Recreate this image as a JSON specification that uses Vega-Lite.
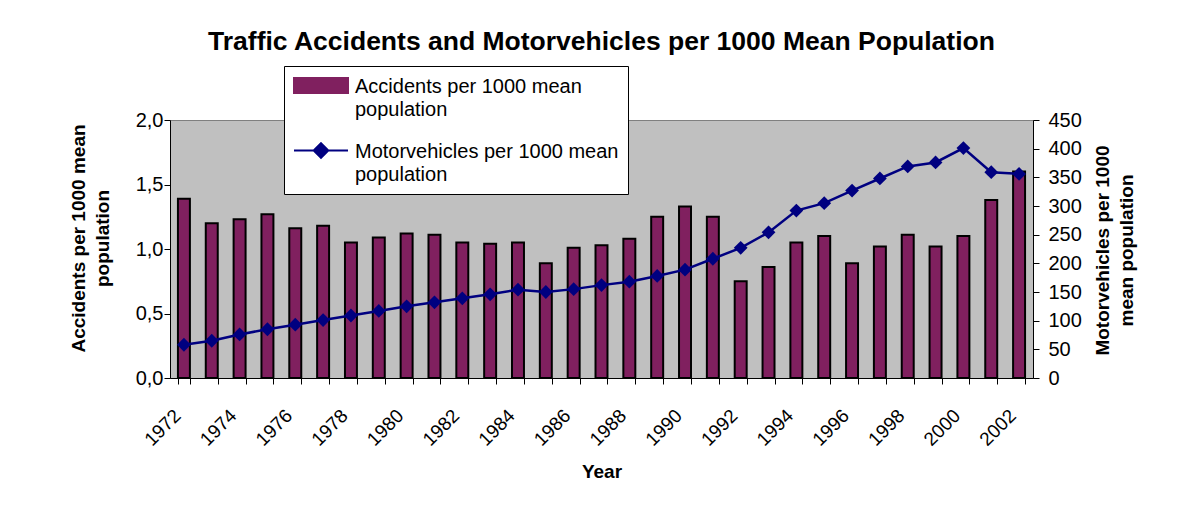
{
  "$schema": "https://vega.github.io/schema/vega-lite/v6.json",
  "width": 863,
  "height": 258,
  "autosize": {"type": "none"},
  "padding": {"left": 170, "top": 120, "right": 162, "bottom": 142},
  "background": "white",
  "config": {
    "font": "Liberation Sans",
    "view": {"fill": "#C0C0C0", "stroke": "#808080", "strokeWidth": 1},
    "axis": {
      "grid": false,
      "domainColor": "black",
      "tickColor": "black",
      "labelColor": "black",
      "titleColor": "black",
      "labelFont": "Liberation Sans",
      "titleFont": "Liberation Sans",
      "labelFontSize": 20,
      "titleFontSize": 19,
      "titleFontWeight": "bold",
      "tickSize": 6,
      "domainWidth": 1,
      "tickWidth": 1,
      "titleLineHeight": 24
    },
    "legend": {
      "title": null,
      "orient": "none",
      "legendX": 114,
      "legendY": -54,
      "fillColor": "white",
      "strokeColor": "black",
      "padding": 9,
      "labelFont": "Liberation Sans",
      "labelFontSize": 20,
      "labelColor": "black",
      "labelLimit": 500,
      "labelOffset": 6,
      "labelBaseline": "alphabetic",
      "symbolSize": 2916,
      "symbolStrokeWidth": 2,
      "symbolStrokeColor": "black",
      "rowPadding": 19
    }
  },
  "title": {
    "text": "Traffic Accidents and Motorvehicles per 1000 Mean Population",
    "font": "Liberation Sans",
    "fontSize": 26.5,
    "fontWeight": "bold",
    "color": "black",
    "anchor": "middle",
    "frame": "group",
    "offset": 10
  },
  "data": {
    "values": [
      {"Year": 1972, "Accidents": 1.39, "Motorvehicles": 58},
      {"Year": 1973, "Accidents": 1.20, "Motorvehicles": 65},
      {"Year": 1974, "Accidents": 1.23, "Motorvehicles": 76},
      {"Year": 1975, "Accidents": 1.27, "Motorvehicles": 85},
      {"Year": 1976, "Accidents": 1.16, "Motorvehicles": 93},
      {"Year": 1977, "Accidents": 1.18, "Motorvehicles": 101},
      {"Year": 1978, "Accidents": 1.05, "Motorvehicles": 109},
      {"Year": 1979, "Accidents": 1.09, "Motorvehicles": 117},
      {"Year": 1980, "Accidents": 1.12, "Motorvehicles": 125},
      {"Year": 1981, "Accidents": 1.11, "Motorvehicles": 132},
      {"Year": 1982, "Accidents": 1.05, "Motorvehicles": 139},
      {"Year": 1983, "Accidents": 1.04, "Motorvehicles": 146},
      {"Year": 1984, "Accidents": 1.05, "Motorvehicles": 154},
      {"Year": 1985, "Accidents": 0.89, "Motorvehicles": 150},
      {"Year": 1986, "Accidents": 1.01, "Motorvehicles": 155},
      {"Year": 1987, "Accidents": 1.03, "Motorvehicles": 162},
      {"Year": 1988, "Accidents": 1.08, "Motorvehicles": 168},
      {"Year": 1989, "Accidents": 1.25, "Motorvehicles": 178},
      {"Year": 1990, "Accidents": 1.33, "Motorvehicles": 189},
      {"Year": 1991, "Accidents": 1.25, "Motorvehicles": 208},
      {"Year": 1992, "Accidents": 0.75, "Motorvehicles": 227},
      {"Year": 1993, "Accidents": 0.86, "Motorvehicles": 254},
      {"Year": 1994, "Accidents": 1.05, "Motorvehicles": 292},
      {"Year": 1995, "Accidents": 1.10, "Motorvehicles": 305},
      {"Year": 1996, "Accidents": 0.89, "Motorvehicles": 327},
      {"Year": 1997, "Accidents": 1.02, "Motorvehicles": 348},
      {"Year": 1998, "Accidents": 1.11, "Motorvehicles": 369},
      {"Year": 1999, "Accidents": 1.02, "Motorvehicles": 376},
      {"Year": 2000, "Accidents": 1.10, "Motorvehicles": 401},
      {"Year": 2001, "Accidents": 1.38, "Motorvehicles": 359},
      {"Year": 2002, "Accidents": 1.60, "Motorvehicles": 356}
    ]
  },
  "encoding": {
    "x": {
      "field": "Year",
      "type": "ordinal",
      "scale": {"paddingInner": 0.57, "paddingOuter": 0.285},
      "axis": {
        "tickBand": "extent",
        "labelAngle": -45,
        "labelAlign": "right",
        "labelBaseline": "top",
        "labelFontSize": 19,
        "labelPadding": 22,
        "labelOffset": -13,
        "labelExpr": "datum.value % 2 == 0 ? datum.label : ''",
        "title": "Year",
        "titleX": 431.5,
        "titleY": 99,
        "titleBaseline": "alphabetic"
      }
    }
  },
  "layer": [
    {
      "mark": {"type": "bar", "stroke": "black", "strokeWidth": 2},
      "encoding": {
        "y": {
          "field": "Accidents",
          "type": "quantitative",
          "scale": {"domain": [0, 2]},
          "axis": {
            "values": [0, 0.5, 1, 1.5, 2],
            "labelExpr": "replace(format(datum.value, '.1f'), '.', ',')",
            "labelPadding": 1,
            "title": ["Accidents per 1000 mean", "population"],
            "titleAngle": -90,
            "titleX": -86,
            "titleY": 118,
            "titleAlign": "center",
            "titleBaseline": "alphabetic"
          }
        },
        "color": {
          "datum": "Accidents per 1000 mean population",
          "type": "nominal",
          "scale": {
            "domain": ["Accidents per 1000 mean population", "Motorvehicles per 1000 mean population"],
            "range": ["#80205F", "#000080"]
          },
          "legend": {
            "labelExpr": "datum.label == 'Accidents per 1000 mean population' ? ['Accidents per 1000 mean', 'population'] : ['Motorvehicles per 1000 mean', 'population']",
            "encode": {
              "symbols": {
                "update": {
                  "shape": {"signal": "datum.value == 'Accidents per 1000 mean population' ? 'M-1,-0.28H1V0.28H-1Z' : 'M-1,0H1M0,-0.27L0.27,0L0,0.27L-0.27,0Z'"},
                  "fill": {"signal": "datum.value == 'Accidents per 1000 mean population' ? '#80205F' : '#000080'"},
                  "stroke": {"signal": "datum.value == 'Accidents per 1000 mean population' ? 'black' : '#000080'"},
                  "strokeWidth": {"value": 2},
                  "opacity": {"value": 1},
                  "fillOpacity": {"value": 1},
                  "strokeOpacity": {"value": 1},
                  "size": {"value": 2916},
                  "y": {"value": 10.5}
                }
              },
              "labels": {"update": {"y": {"value": 10.5}, "dy": {"value": 7}, "lineHeight": {"value": 23.5}}}
            }
          }
        }
      }
    },
    {
      "mark": {"type": "line", "strokeWidth": 2.5, "point": {"filled": true, "shape": "diamond", "size": 190, "opacity": 1}},
      "encoding": {
        "y": {
          "field": "Motorvehicles",
          "type": "quantitative",
          "scale": {"domain": [0, 450]},
          "axis": {
            "orient": "right",
            "values": [0, 50, 100, 150, 200, 250, 300, 350, 400, 450],
            "labelPadding": 9,
            "title": ["Motorvehicles per 1000", "mean population"],
            "titleAngle": -90,
            "titleX": 75,
            "titleY": 130,
            "titleAlign": "center",
            "titleBaseline": "alphabetic"
          }
        },
        "color": {
          "datum": "Motorvehicles per 1000 mean population",
          "type": "nominal",
          "legend": {
            "labelExpr": "datum.label == 'Accidents per 1000 mean population' ? ['Accidents per 1000 mean', 'population'] : ['Motorvehicles per 1000 mean', 'population']",
            "encode": {
              "symbols": {
                "update": {
                  "shape": {"signal": "datum.value == 'Accidents per 1000 mean population' ? 'M-1,-0.28H1V0.28H-1Z' : 'M-1,0H1M0,-0.27L0.27,0L0,0.27L-0.27,0Z'"},
                  "fill": {"signal": "datum.value == 'Accidents per 1000 mean population' ? '#80205F' : '#000080'"},
                  "stroke": {"signal": "datum.value == 'Accidents per 1000 mean population' ? 'black' : '#000080'"},
                  "strokeWidth": {"value": 2},
                  "opacity": {"value": 1},
                  "fillOpacity": {"value": 1},
                  "strokeOpacity": {"value": 1},
                  "size": {"value": 2916},
                  "y": {"value": 10.5}
                }
              },
              "labels": {"update": {"y": {"value": 10.5}, "dy": {"value": 7}, "lineHeight": {"value": 23.5}}}
            }
          }
        }
      }
    }
  ],
  "resolve": {"scale": {"y": "independent"}}
}
